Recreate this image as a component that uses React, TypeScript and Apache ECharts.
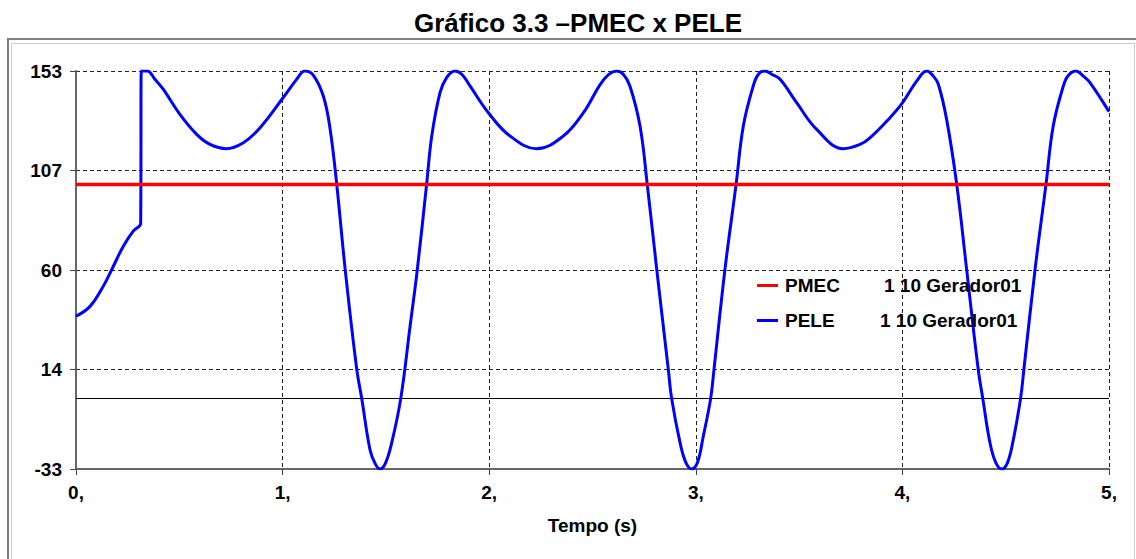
import React, { useEffect, useRef } from "react";
import * as echarts from "echarts";

const titleText = "Gráfico 3.3 –PMEC x PELE";
const xAxisName = "Tempo (s)";
const xTickValues = [0, 1, 2, 3, 4, 5];
const xTickLabels = ["0,", "1,", "2,", "3,", "4,", "5,"];
const yTickValues = [-33, 13.5, 60, 106.5, 153];
const yTickLabels = ["-33", "14", "60", "107", "153"];

const seriesNames = ["PMEC", "PELE"];
const seriesGroups = ["1 10 Gerador01", "1 10 Gerador01"];

const pmecTime = [0, 5];
const pmecValue = [100, 100];

const peleTime = [
  0.0, 0.068, 0.132, 0.173, 0.229, 0.277, 0.313, 0.316, 0.345, 0.382, 0.423, 0.503, 0.584, 0.649, 0.726,
  0.81, 0.891, 0.997, 1.068, 1.108, 1.149, 1.197, 1.229, 1.262, 1.303, 1.359, 1.383, 1.423, 1.448, 1.471,
  1.497, 1.528, 1.572, 1.617, 1.652, 1.697, 1.722, 1.762, 1.794, 1.834, 1.867, 1.907, 1.996, 2.101, 2.23,
  2.359, 2.456, 2.536, 2.58, 2.617, 2.649, 2.681, 2.73, 2.765, 2.811, 2.867, 2.883, 2.924, 2.952, 2.98,
  3.008, 3.036, 3.072, 3.088, 3.141, 3.195, 3.23, 3.278, 3.303, 3.335, 3.367, 3.408, 3.488, 3.585, 3.714,
  3.795, 3.843, 3.94, 4.001, 4.069, 4.118, 4.15, 4.174, 4.214, 4.263, 4.311, 4.367, 4.389, 4.424, 4.452,
  4.481, 4.509, 4.537, 4.572, 4.588, 4.642, 4.695, 4.73, 4.779, 4.803, 4.84, 4.876, 4.908, 5.0,
];
const peleValue = [
  38.4, 43, 52.4, 60.2, 71.1, 78.2, 81.8, 153, 153, 149.1, 144.4, 132.7, 123.4, 118.7, 116.7,
  119.5, 126.5, 139.8, 149.1, 153, 151, 141.3, 126.5, 100, 60.2, 13.5, 0, -24, -30.5, -33,
  -30.5, -20.8, 0, 33.7, 60.2, 100, 122.6, 142.9, 149.9, 153, 151.5, 146, 133.5, 122.6, 116.7,
  122.6, 133.5, 146.5, 151.5, 153, 151.5, 146, 127.3, 100, 60.2, 13.5, 0, -20.8, -30, -33,
  -30, -17.8, 0, 13.5, 60.2, 100, 127.3, 146, 151.5, 153, 151.5, 149.1, 138.2, 125.7, 116.7,
  118.7, 121.8, 131.2, 138.2, 148.3, 153, 150.6, 146.8, 130.4, 100, 60.2, 13.5, 0, -20.8, -30,
  -33, -30, -19.3, 0, 13.5, 60.2, 100, 127.3, 146, 150.9, 153, 150.6, 147.6, 134,
];

const FONT = "'Liberation Sans', Arial, Helvetica, sans-serif";

export default function App() {
  const ref = useRef<HTMLDivElement>(null);

  useEffect(() => {
    if (!ref.current) return;
    const chart = echarts.init(ref.current, undefined, { renderer: "svg" });

    const pmecData = pmecTime.map((t, i) => [t, pmecValue[i]]);
    const peleData = peleTime.map((t, i) => [t, peleValue[i]]);

    chart.setOption({
      animation: false,
      backgroundColor: "#ffffff",
      title: {
        text: titleText,
        left: 573,
        textAlign: "center",
        top: 5,
        textStyle: { fontFamily: FONT, fontWeight: "bold", fontSize: 26, color: "#000" },
      },
      graphic: [
        {
          type: "rect",
          shape: { x: 8, y: 39, width: 1140, height: 540 },
          style: { fill: "none", stroke: "#808080", lineWidth: 2 },
          silent: true,
        },
        {
          type: "rect",
          shape: { x: 11.5, y: 43.5, width: 1123, height: 530 },
          style: { fill: "none", stroke: "#9a9a9a", lineWidth: 1, lineDash: [1, 1] },
          silent: true,
        },
      ],
      legend: {
        data: [seriesNames[0], seriesNames[1]],
        orient: "vertical",
        left: 752,
        top: 271,
        itemWidth: 21,
        itemHeight: 3,
        itemGap: 16,
        icon: "rect",
        selectedMode: false,
        formatter: (name: string) => {
          const i = seriesNames.indexOf(name);
          return `{n${i}|${name}}{g|${seriesGroups[i]}}`;
        },
        textStyle: {
          fontFamily: FONT,
          fontWeight: "bold",
          fontSize: 19,
          color: "#000",
          padding: [0, 0, 0, 2],
          rich: {
            n0: { fontFamily: FONT, fontWeight: "bold", fontSize: 19, width: 99, color: "#000" },
            n1: { fontFamily: FONT, fontWeight: "bold", fontSize: 19, width: 95, color: "#000" },
            g: { fontFamily: FONT, fontWeight: "bold", fontSize: 19, color: "#000" },
          },
        },
      },
      grid: { left: 76, top: 71, width: 1033, height: 398, containLabel: false },
      xAxis: {
        type: "value",
        min: 0,
        max: 5,
        interval: 1,
        name: xAxisName,
        nameLocation: "middle",
        nameGap: 47,
        nameTextStyle: { fontFamily: FONT, fontWeight: "bold", fontSize: 19, color: "#000" },
        axisLine: { show: true, onZero: false, lineStyle: { color: "#666", width: 2 } },
        axisTick: { show: true, length: 6, lineStyle: { color: "#444", width: 1 } },
        axisLabel: {
          margin: 14,
          fontFamily: FONT,
          fontWeight: "bold",
          fontSize: 19,
          color: "#000",
          formatter: (v: number) => {
            const i = xTickValues.indexOf(v);
            return i >= 0 ? xTickLabels[i] : `${v},`;
          },
        },
        splitLine: { show: true, lineStyle: { color: "#222", width: 1, type: [4, 3] } },
      },
      yAxis: {
        type: "value",
        min: -33,
        max: 153,
        interval: 46.5,
        axisLine: { show: true, onZero: false, lineStyle: { color: "#666", width: 2 } },
        axisTick: { show: true, length: 6, lineStyle: { color: "#444", width: 1 } },
        axisLabel: {
          margin: 14,
          fontFamily: FONT,
          fontWeight: "bold",
          fontSize: 19,
          color: "#000",
          formatter: (v: number) => {
            const i = yTickValues.findIndex((y) => Math.abs(y - v) < 1e-6);
            return i >= 0 ? yTickLabels[i] : String(Math.round(v));
          },
        },
        splitLine: { show: true, lineStyle: { color: "#222", width: 1, type: [4, 3] } },
      },
      series: [
        {
          name: seriesNames[1],
          type: "line",
          data: peleData,
          showSymbol: false,
          symbol: "none",
          smooth: 0.4,
          clip: true,
          lineStyle: { color: "#0000ff", width: 3 },
          itemStyle: { color: "#0000ff" },
          z: 3,
          markLine: {
            silent: true,
            symbol: "none",
            label: { show: false },
            lineStyle: { color: "#000", width: 1, type: "solid" },
            data: [{ yAxis: 0 }],
            z: 2,
          },
        },
        {
          name: seriesNames[0],
          type: "line",
          data: pmecData,
          showSymbol: false,
          symbol: "none",
          lineStyle: { color: "#ff0000", width: 3.5 },
          itemStyle: { color: "#ff0000" },
          z: 4,
        },
      ],
    });

    return () => chart.dispose();
  }, []);

  return (
    <div
      ref={ref}
      style={{ position: "fixed", left: 0, top: 0, width: 1136, height: 559 }}
    />
  );
}
